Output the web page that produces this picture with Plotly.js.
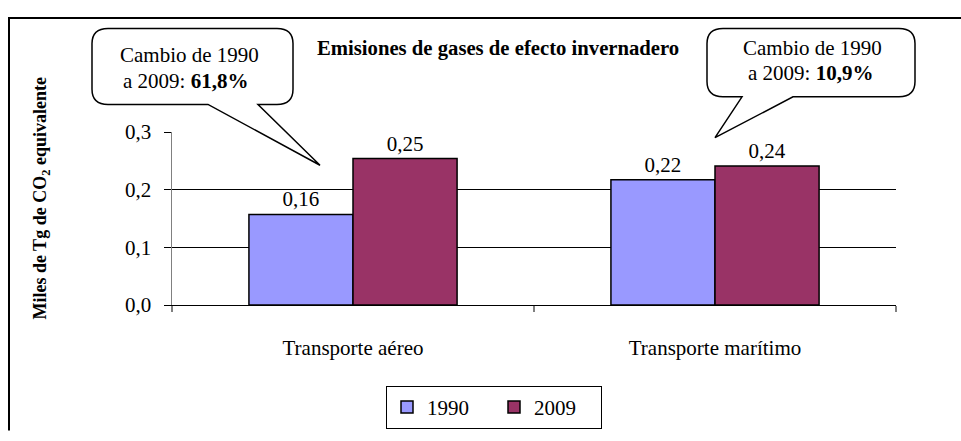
<!DOCTYPE html>
<html>
<head>
<meta charset="utf-8">
<script src="https://cdn.plot.ly/plotly-3.0.1.min.js"></script>
<style>
  html, body { margin: 0; padding: 0; background: #fff; }
  #chart { width: 961px; height: 441px; }
</style>
</head>
<body>
<div id="chart"></div>
<script>
// ---- Data ----
const categories = ['Transporte aéreo', 'Transporte marítimo'];
const seriesNames = ['1990', '2009'];
const values1990 = [0.157, 0.217];
const values2009 = [0.254, 0.241];
const calloutLine1 = ['Cambio de 1990', 'Cambio de 1990'];
const calloutChange = ['61,8%', '10,9%'];
const chartTitle = 'Emisiones de gases de efecto invernadero';
const yTitle = 'Miles de Tg de CO<sub>2</sub> equivalente';

// ---- Layout geometry (pixels) ----
const W = 961, H = 441;
const M = { l: 172, r: 65, t: 132, b: 127 };
const PW = W - M.l - M.r, PH = H - M.t - M.b;
const px = x => (x - M.l) / PW;
const py = y => (H - M.b - y) / PH;

const serif = 'Liberation Serif, Tinos, Noto Serif, FreeSerif, Nimbus Roman, Liberation Sans, Arimo, sans-serif';

// pick a font size so that a sample text gets the width it has in the reference
const ctx = document.createElement('canvas').getContext('2d');
function fitSize(sample, weight, targetWidth, maxSize) {
  ctx.font = weight + ' 100px ' + serif;
  const w = ctx.measureText(sample).width;
  return Math.min(maxSize, Math.round(100 * targetWidth / w * 10) / 10);
}
const regSize = fitSize(categories[0], 'normal', 142, 21);
const boldTitleSize = fitSize(chartTitle, 'bold', 363, 21);

function bubblePath(x0, y0, x1, y1, r, t0, t1, tx, ty) {
  const P = (x, y) => px(x).toFixed(5) + ',' + py(y).toFixed(5);
  return 'M' + P(x0 + r, y0) +
    ' L' + P(x1 - r, y0) +
    ' Q' + P(x1, y0) + ' ' + P(x1, y0 + r) +
    ' L' + P(x1, y1 - r) +
    ' Q' + P(x1, y1) + ' ' + P(x1 - r, y1) +
    ' L' + P(t1, y1) +
    ' L' + P(tx, ty) +
    ' L' + P(t0, y1) +
    ' L' + P(x0 + r, y1) +
    ' Q' + P(x0, y1) + ' ' + P(x0, y1 - r) +
    ' L' + P(x0, y0 + r) +
    ' Q' + P(x0, y0) + ' ' + P(x0 + r, y0) + ' Z';
}

const labelFont = { family: serif, size: regSize, color: '#000' };

const traces = [
  {
    type: 'bar', name: seriesNames[0], x: categories, y: values1990,
    marker: { color: '#9999FF', line: { color: '#000', width: 1.5 } },
    texttemplate: '%{y:.2f}', textposition: 'outside', cliponaxis: false,
    textfont: labelFont, hoverinfo: 'skip'
  },
  {
    type: 'bar', name: seriesNames[1], x: categories, y: values2009,
    marker: { color: '#993366', line: { color: '#000', width: 1.5 } },
    texttemplate: '%{y:.2f}', textposition: 'outside', cliponaxis: false,
    textfont: labelFont, hoverinfo: 'skip'
  }
];

const layout = {
  width: W, height: H,
  margin: M,
  paper_bgcolor: '#fff', plot_bgcolor: '#fff',
  separators: ',.',
  font: labelFont,
  barmode: 'group', bargap: 0.425, bargroupgap: 0,
  showlegend: true,
  legend: {
    orientation: 'h', x: px(494), xanchor: 'center', y: py(399), yanchor: 'top',
    bgcolor: '#fff', bordercolor: '#000', borderwidth: 1,
    font: labelFont, itemwidth: 30, tracegroupgap: 0, entrywidth: 62
  },
  xaxis: {
    type: 'category', tickson: 'boundaries',
    showline: true, linecolor: '#000', linewidth: 1,
    ticks: 'outside', ticklen: 6, tickcolor: '#808080', tickwidth: 1.5,
    showgrid: false, zeroline: false,
    ticklabelstandoff: 24,
    tickfont: labelFont
  },
  yaxis: {
    range: [0, 0.3], tickvals: [0, 0.1, 0.2, 0.3], tickformat: '.1f',
    showline: true, linecolor: '#808080', linewidth: 1.5,
    ticks: 'outside', ticklen: 7, tickcolor: '#000', tickwidth: 1,
    showgrid: true, gridcolor: '#000', gridwidth: 1, zeroline: false,
    ticklabelstandoff: 8,
    tickfont: labelFont
  },
  shapes: [
    { type: 'path', xref: 'paper', yref: 'paper',
      path: 'M' + px(9) + ',' + py(H + 5) + ' L' + px(9) + ',' + py(12) + ' L' + px(W + 5) + ',' + py(12),
      line: { color: '#000', width: 2 } },
    { type: 'path', xref: 'paper', yref: 'paper', layer: 'above',
      path: bubblePath(92, 23, 293, 103, 16, 208, 258, 320, 167),
      fillcolor: '#fff', line: { color: '#000', width: 1.5 } },
    { type: 'path', xref: 'paper', yref: 'paper', layer: 'above',
      path: bubblePath(707, 23, 915, 95, 16, 742, 793, 715, 138),
      fillcolor: '#fff', line: { color: '#000', width: 1.5 } }
  ],
  annotations: [
    { xref: 'paper', yref: 'paper', x: px(498), y: py(44), xanchor: 'center', yanchor: 'middle',
      text: '<b>' + chartTitle + '</b>', showarrow: false,
      font: { family: serif, size: boldTitleSize, color: '#000' } },
    { xref: 'paper', yref: 'paper', x: px(42), y: py(202), xanchor: 'center', yanchor: 'middle',
      text: '<b>' + yTitle + '</b>', textangle: -90, showarrow: false,
      font: { family: serif, size: 18, color: '#000' } },
    { xref: 'paper', yref: 'paper', x: px(189), y: py(51), xanchor: 'center', yanchor: 'middle',
      text: calloutLine1[0], showarrow: false, font: labelFont },
    { xref: 'paper', yref: 'paper', x: px(185), y: py(78), xanchor: 'center', yanchor: 'middle',
      text: 'a 2009: <b>' + calloutChange[0] + '</b>', showarrow: false, font: labelFont },
    { xref: 'paper', yref: 'paper', x: px(812), y: py(44), xanchor: 'center', yanchor: 'middle',
      text: calloutLine1[1], showarrow: false, font: labelFont },
    { xref: 'paper', yref: 'paper', x: px(810), y: py(70), xanchor: 'center', yanchor: 'middle',
      text: 'a 2009: <b>' + calloutChange[1] + '</b>', showarrow: false, font: labelFont }
  ]
};

Plotly.newPlot('chart', traces, layout, { staticPlot: true, displayModeBar: false });
</script>
</body>
</html>
